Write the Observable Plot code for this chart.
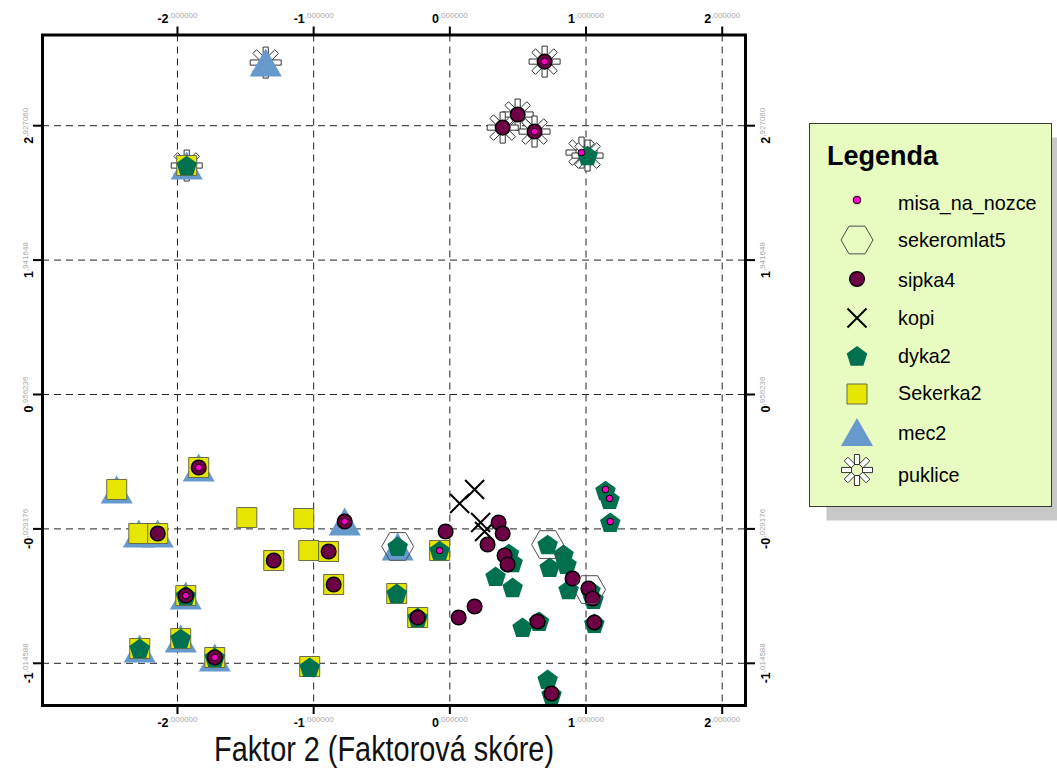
<!DOCTYPE html>
<html><head><meta charset="utf-8">
<script src="https://cdn.jsdelivr.net/npm/d3@7"></script>
<script src="https://cdn.jsdelivr.net/npm/@observablehq/plot@0.6"></script>
<style>
body{margin:0;background:#fff;}
#wrap{position:relative;width:1057px;height:782px;font-family:"Liberation Sans",Arial,sans-serif;}
#wrap svg{position:absolute;left:0;top:0;}
</style></head><body><div id="wrap"></div>
<script>
// ---- tick values and labels ----
const xTicks = [-2, -1, 0, 1, 2];
const xTickInt = ["-2", "-1", "0", "1", "2"];
const xTickDec = [",000000", ",000000", ",000000", ",000000", ",000000"];
const yTicks = [2.927060, 1.941648, 0.956236, -0.029176, -1.014588];
const yTickInt = ["2", "1", "0", "-0", "-1"];
const yTickDec = [",927060", ",941648", ",956236", ",029176", ",014588"];
const xTitle = "Faktor 2 (Faktorová skóre)";
const legendTitle = "Legenda";
const categories = ["misa_na_nozce", "sekeromlat5", "sipka4", "kopi", "dyka2", "Sekerka2", "mec2", "puklice"];

// ---- series values [x, y] ----
const puklice = [[-1.352,3.390],[-1.932,2.635],[0.696,3.397],[0.498,3.009],[0.388,2.913],[0.622,2.884],[0.967,2.730],[1.011,2.708]];
const mec2 = [[-1.352,3.390],[-1.932,2.635],[-2.446,0.260],[-1.844,0.421],[-2.284,-0.063],[-2.145,-0.063],[-0.772,0.025],[-1.939,-0.518],[-2.277,-0.906],[-1.976,-0.833],[-1.726,-0.972],[-0.383,-0.158]];
const Sekerka2 = [[-1.932,2.635],[-2.446,0.260],[-1.844,0.421],[-2.284,-0.063],[-2.145,-0.063],[-1.491,0.054],[-1.073,0.047],[-1.293,-0.261],[-1.036,-0.188],[-0.890,-0.195],[-0.853,-0.437],[-1.939,-0.518],[-2.277,-0.906],[-1.976,-0.833],[-1.726,-0.972],[-1.029,-1.038],[-0.075,-0.188],[-0.390,-0.503],[-0.236,-0.679]];
const dyka2 = [[-1.932,2.635],[1.011,2.708],[-1.939,-0.518],[-2.277,-0.906],[-1.976,-0.833],[-1.726,-0.972],[-1.029,-1.044],[-0.383,-0.158],[-0.075,-0.188],[-0.390,-0.503],[-0.236,-0.679],[0.434,-0.210],[0.461,-0.276],[0.336,-0.378],[0.461,-0.459],[0.534,-0.752],[0.655,-0.708],[0.718,-0.144],[0.733,-0.312],[0.835,-0.217],[0.857,-0.290],[0.872,-0.474],[1.033,-0.480],[1.055,-0.545],[1.061,-0.722],[0.718,-1.133],[0.747,-1.243],[1.143,0.252],[1.173,0.187],[1.178,0.018]];
const kopi = [[0.182,0.260],[0.072,0.157],[0.226,0.018],[0.255,-0.048]];
const sipka4 = [[0.696,3.397],[0.498,3.009],[0.388,2.913],[0.622,2.884],[-1.844,0.421],[-2.145,-0.063],[-0.772,0.025],[-1.293,-0.261],[-0.890,-0.195],[-0.853,-0.437],[-1.939,-0.518],[-1.726,-0.972],[-0.236,-0.679],[-0.031,-0.048],[0.277,-0.144],[0.358,0.018],[0.388,-0.063],[0.402,-0.224],[0.424,-0.290],[0.182,-0.598],[0.065,-0.679],[0.644,-0.708],[0.901,-0.393],[1.018,-0.466],[1.048,-0.540],[1.061,-0.715],[0.747,-1.236]];
const sekeromlat5 = [[-0.383,-0.158],[0.718,-0.144],[1.026,-0.474]];
const misa_na_nozce = [[0.696,3.397],[0.622,2.884],[0.967,2.730],[-1.844,0.421],[-0.772,0.025],[-1.939,-0.518],[-1.726,-0.972],[-0.075,-0.188],[1.143,0.260],[1.173,0.194],[1.178,0.025]];

// ---- custom symbols (size = PI*r^2 with r = 10 → scale 1) ----
const kf = s => Math.sqrt(s / Math.PI) / 10;
const triSym = {draw(c, s){const f=kf(s); c.moveTo(0,-14*f); c.lineTo(16*f,14*f); c.lineTo(-16*f,14*f); c.closePath();}};
const sqSym = {draw(c, s){const f=kf(s); c.moveTo(-10*f,-10*f); c.lineTo(10*f,-10*f); c.lineTo(10*f,10*f); c.lineTo(-10*f,10*f); c.closePath();}};
const pentSym = {draw(c, s){const f=kf(s), R=10.8*f; for(let i=0;i<5;i++){const a=-Math.PI/2+i*2*Math.PI/5; const px=R*Math.cos(a), py=R*Math.sin(a)+0.9*f; i?c.lineTo(px,py):c.moveTo(px,py);} c.closePath();}};
const hexSym = {draw(c, s){const f=kf(s), R=16*f; for(let i=0;i<6;i++){const a=i*Math.PI/3; const px=R*Math.cos(a), py=R*Math.sin(a); i?c.lineTo(px,py):c.moveTo(px,py);} c.closePath();}};
const timesSym = {draw(c, s){const f=kf(s), d=9.5*f; c.moveTo(-d,-d); c.lineTo(d,d); c.moveTo(d,-d); c.lineTo(-d,d);}};
const starSym = {draw(c, s){const f=kf(s), a=5.5*f, b=15.5*f, w=2.6*f;
  for(let i=0;i<8;i++){const t=i*Math.PI/4, dx=Math.cos(t), dy=Math.sin(t), qx=-dy, qy=dx;
    c.moveTo(a*dx+w*qx, a*dy+w*qy); c.lineTo(b*dx+w*qx, b*dy+w*qy); c.lineTo(b*dx-w*qx, b*dy-w*qy); c.lineTo(a*dx-w*qx, a*dy-w*qy); c.closePath();}}};

const styles = {
  puklice:       {data: puklice, symbol: starSym, r: 10, fill: "#ffffff", stroke: "#333333", strokeWidth: 1},
  mec2:          {data: mec2, symbol: triSym, r: 10, fill: "#6699cc", stroke: "none", strokeWidth: 0},
  Sekerka2:      {data: Sekerka2, symbol: sqSym, r: 10, fill: "#e6e600", stroke: "#6b6b4a", strokeWidth: 1},
  dyka2:         {data: dyka2, symbol: pentSym, r: 10, fill: "#00704f", stroke: "none", strokeWidth: 0},
  kopi:          {data: kopi, symbol: timesSym, r: 10, fill: "none", stroke: "#000000", strokeWidth: 2},
  sipka4:        {data: sipka4, symbol: "circle", r: 7.3, fill: "#6e0046", stroke: "#000000", strokeWidth: 1.5},
  sekeromlat5:   {data: sekeromlat5, symbol: hexSym, r: 10, fill: "none", stroke: "#4d4d4d", strokeWidth: 1},
  misa_na_nozce: {data: misa_na_nozce, symbol: "circle", r: 3.3, fill: "#ff00c8", stroke: "#000000", strokeWidth: 1}
};
const drawOrder = ["puklice", "mec2", "Sekerka2", "dyka2", "kopi", "sipka4", "sekeromlat5", "misa_na_nozce"];

const W = 1057, H = 782;
const dotMarks = drawOrder.map(k => {
  const s = styles[k];
  return Plot.dot(s.data, {x: d => d[0], y: d => d[1], symbol: s.symbol, r: s.r, fill: s.fill, stroke: s.stroke, strokeWidth: s.strokeWidth});
});
const gridStyle = {stroke: "#222", strokeOpacity: 1, strokeWidth: 1, strokeDasharray: "7,5"};
const tickStyle = {tickSize: 9, strokeWidth: 2, tickFormat: () => "", label: null};

const chart = Plot.plot({
  width: W, height: H,
  marginLeft: 42, marginTop: 34.5, marginRight: 312, marginBottom: 77,
  x: {domain: [-2.991, 2.171]},
  y: {domain: [-1.324, 3.592]},
  style: {fontFamily: "'Liberation Sans', Arial, sans-serif", background: "transparent", overflow: "visible"},
  marks: [
    Plot.gridX(xTicks, gridStyle),
    Plot.gridY(yTicks, gridStyle),
    ...dotMarks,
    Plot.frame({stroke: "#000", strokeWidth: 3}),
    Plot.axisX(xTicks, {anchor: "top", ...tickStyle}),
    Plot.axisX(xTicks, {anchor: "bottom", ...tickStyle}),
    Plot.axisY(yTicks, {anchor: "left", ...tickStyle}),
    Plot.axisY(yTicks, {anchor: "right", ...tickStyle}),
    Plot.text(xTicks, {x: d => d, frameAnchor: "top", dy: -12, lineAnchor: "bottom", textAnchor: "middle", text: (d, i) => xTickInt[i] + "|" + xTickDec[i]}),
    Plot.text(xTicks, {x: d => d, frameAnchor: "bottom", dy: 21, lineAnchor: "bottom", textAnchor: "middle", text: (d, i) => xTickInt[i] + "|" + xTickDec[i]}),
    Plot.text(yTicks, {y: d => d, frameAnchor: "left", dx: -10, rotate: -90, lineAnchor: "bottom", textAnchor: "middle", text: (d, i) => yTickInt[i] + "|" + yTickDec[i]}),
    Plot.text(yTicks, {y: d => d, frameAnchor: "right", dx: 24, rotate: -90, lineAnchor: "bottom", textAnchor: "middle", text: (d, i) => yTickInt[i] + "|" + yTickDec[i]}),
    Plot.text([xTitle], {frameAnchor: "bottom", dx: -10, dy: 55, lineAnchor: "bottom", textAnchor: "middle", text: d => d, fontSize: 35, fill: "#111"})
  ]
});

// split labels into bold integer + small grey raised decimals
const NS = "http://www.w3.org/2000/svg";
chart.querySelectorAll("text").forEach(t => {
  const s = t.textContent;
  if (s === xTitle) { t.setAttribute("textLength", "340"); t.setAttribute("lengthAdjust", "spacingAndGlyphs"); return; }
  if (!s.includes("|")) return;
  const [a, b] = s.split("|");
  t.textContent = "";
  const t1 = document.createElementNS(NS, "tspan");
  t1.textContent = a;
  t1.style.fontWeight = "bold"; t1.style.fontSize = "12.5px"; t1.style.fill = "#000";
  const t2 = document.createElementNS(NS, "tspan");
  t2.textContent = b;
  t2.style.fontSize = "8px"; t2.style.fill = "#a8a8a8"; t2.style.fontWeight = "normal";
  t2.setAttribute("dy", "-5");
  t.append(t1, t2);
});
document.getElementById("wrap").append(chart);

// ---- legend ----
const lg = d3.create("svg").attr("width", W).attr("height", H).style("pointer-events", "none");
const bx = 809.5, by = 123.5, bw = 242, bh = 383;
lg.append("rect").attr("x", bx + 17).attr("y", by + 14).attr("width", bw).attr("height", bh).attr("fill", "#c8c8c8");
lg.append("rect").attr("x", bx).attr("y", by).attr("width", bw).attr("height", bh).attr("fill", "#e8fcc2").attr("stroke", "#3a3a3a").attr("stroke-width", 1);
lg.append("text").attr("x", 827).attr("y", 165).attr("font-size", 27).attr("font-weight", "bold").attr("fill", "#000")
  .attr("font-family", "'Liberation Sans', Arial, sans-serif").text(legendTitle);
const rowY = [200, 240, 279, 318, 356, 394, 432, 470];
const textY = [203, 240, 280, 318, 356, 393, 433, 475];
categories.forEach((k, i) => {
  const s = styles[k];
  const cx = 857, cy = rowY[i];
  if (s.symbol === "circle") {
    lg.append("circle").attr("cx", cx).attr("cy", cy).attr("r", k === "misa_na_nozce" ? 3.8 : s.r)
      .attr("fill", s.fill).attr("stroke", s.stroke).attr("stroke-width", s.strokeWidth);
  } else {
    lg.append("path").attr("d", d3.symbol(s.symbol, 100 * Math.PI)()).attr("transform", `translate(${cx},${cy})`)
      .attr("fill", s.fill).attr("stroke", s.stroke).attr("stroke-width", s.strokeWidth);
  }
  lg.append("text").attr("x", 898).attr("y", textY[i]).attr("dy", "0.35em").attr("font-size", 19.8).attr("fill", "#000")
    .attr("font-family", "'Liberation Sans', Arial, sans-serif").text(k);
});
document.getElementById("wrap").append(lg.node());
</script></body></html>
